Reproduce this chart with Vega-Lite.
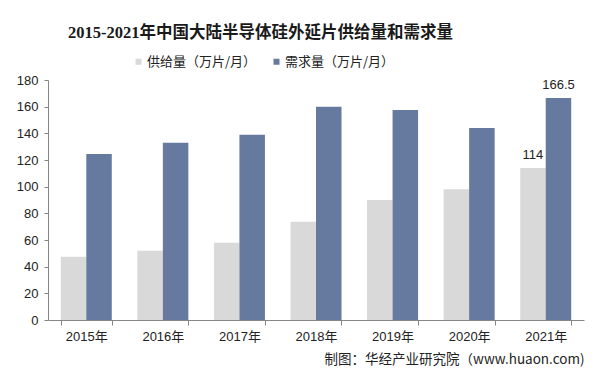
{
  "$schema": "https://vega.github.io/schema/vega-lite/v6.json",
  "width": 536,
  "height": 240,
  "autosize": {"type": "none"},
  "padding": {"left": 48, "top": 80, "right": 18, "bottom": 62},
  "background": "white",
  "title": {
    "text": "2015-2021年中国大陆半导体硅外延片供给量和需求量",
    "anchor": "start",
    "frame": "group",
    "dx": 20,
    "offset": 1,
    "baseline": "alphabetic",
    "font": "Liberation Serif, Noto Sans CJK SC",
    "fontSize": 16.5,
    "fontWeight": "bold",
    "color": "#1a1a1a"
  },
  "data": {
    "values": [
      {"year": "2015年", "series": "供给量（万片/月）", "value": 47.5},
      {"year": "2015年", "series": "需求量（万片/月）", "value": 124.5},
      {"year": "2016年", "series": "供给量（万片/月）", "value": 52},
      {"year": "2016年", "series": "需求量（万片/月）", "value": 133},
      {"year": "2017年", "series": "供给量（万片/月）", "value": 58},
      {"year": "2017年", "series": "需求量（万片/月）", "value": 139},
      {"year": "2018年", "series": "供给量（万片/月）", "value": 73.7},
      {"year": "2018年", "series": "需求量（万片/月）", "value": 160},
      {"year": "2019年", "series": "供给量（万片/月）", "value": 90},
      {"year": "2019年", "series": "需求量（万片/月）", "value": 157.5},
      {"year": "2020年", "series": "供给量（万片/月）", "value": 98},
      {"year": "2020年", "series": "需求量（万片/月）", "value": 144},
      {"year": "2021年", "series": "供给量（万片/月）", "value": 114},
      {"year": "2021年", "series": "需求量（万片/月）", "value": 166.5}
    ]
  },
  "encoding": {
    "x": {
      "field": "year",
      "type": "nominal",
      "sort": null,
      "scale": {"paddingInner": 0.334, "paddingOuter": 0.167},
      "axis": {
        "labelAngle": 0,
        "tickBand": "extent",
        "tickSize": 5,
        "tickColor": "#868686",
        "domainColor": "#868686",
        "labelFont": "Liberation Sans, Noto Sans CJK SC",
        "labelFontSize": 13,
        "labelColor": "#222222",
        "labelPadding": 5,
        "title": "制图：华经产业研究院（www.huaon.com)",
        "titleAnchor": "end",
        "titleAlign": "right",
        "titleFont": "Noto Sans CJK SC",
        "titleFontSize": 13.5,
        "titleFontWeight": "normal",
        "titleColor": "#222222",
        "titlePadding": 9
      }
    },
    "xOffset": {
      "field": "series",
      "type": "nominal",
      "sort": ["供给量（万片/月）", "需求量（万片/月）"],
      "scale": {"paddingInner": 0, "paddingOuter": 0}
    },
    "y": {
      "field": "value",
      "type": "quantitative",
      "scale": {"domain": [0, 180], "nice": false},
      "axis": {
        "values": [0, 20, 40, 60, 80, 100, 120, 140, 160, 180],
        "grid": false,
        "title": null,
        "tickSize": 4,
        "tickColor": "#868686",
        "domainColor": "#868686",
        "labelFont": "Liberation Sans",
        "labelFontSize": 13,
        "labelColor": "#222222",
        "labelPadding": 6
      }
    }
  },
  "layer": [
    {
      "mark": {"type": "bar"},
      "encoding": {
        "color": {
          "field": "series",
          "type": "nominal",
          "scale": {
            "domain": ["供给量（万片/月）", "需求量（万片/月）"],
            "range": ["#d9d9d9", "#66799f"]
          },
          "legend": {
            "title": null,
            "orient": "none",
            "direction": "horizontal",
            "legendX": 84,
            "legendY": -25,
            "symbolType": "square",
            "symbolSize": 36,
            "symbolStrokeWidth": 0,
            "labelFont": "Noto Sans CJK SC",
            "labelFontSize": 13,
            "labelColor": "#222222",
            "labelOffset": 2,
            "columnPadding": 13,
            "padding": 0
          }
        }
      }
    },
    {
      "transform": [{"filter": "datum.year == '2021年'"}],
      "mark": {
        "type": "text",
        "baseline": "bottom",
        "dy": -6,
        "font": "Liberation Sans",
        "fontSize": 13,
        "color": "#222222"
      },
      "encoding": {
        "text": {"field": "value", "type": "quantitative"}
      }
    }
  ],
  "config": {
    "view": {"stroke": null}
  }
}
